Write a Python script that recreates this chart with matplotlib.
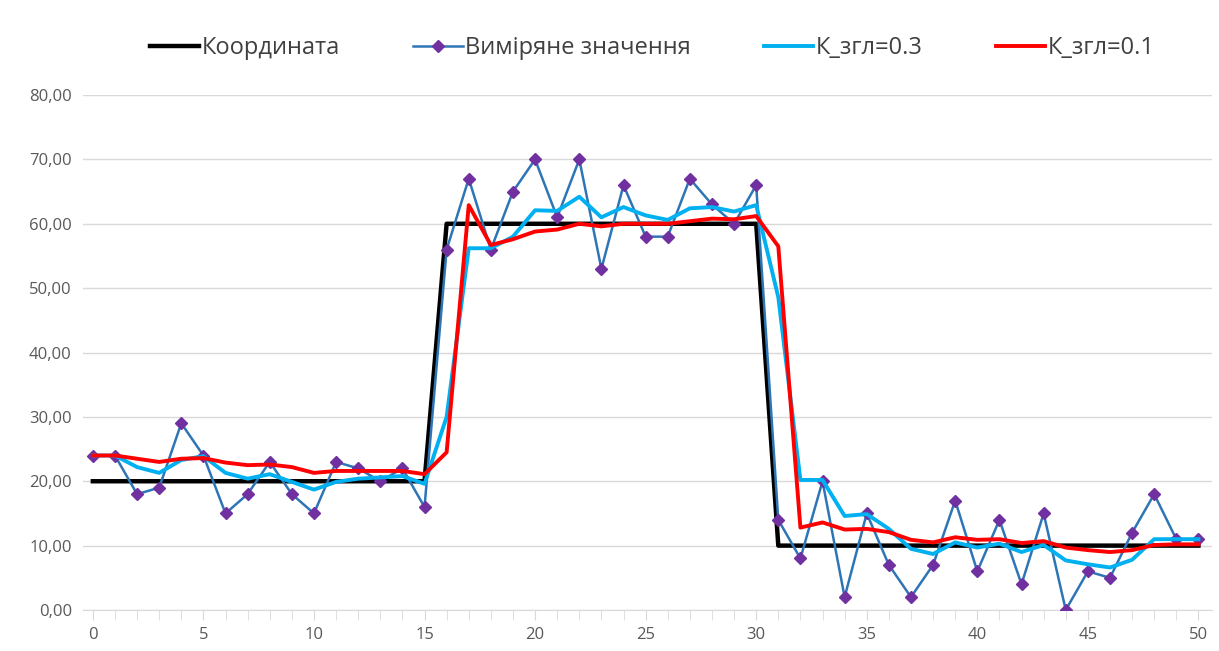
import numpy as np
import matplotlib.pyplot as plt
from matplotlib.ticker import MultipleLocator, FuncFormatter

plt.rcParams['font.family'] = ['Open Sans', 'DejaVu Sans']

# Дані
x = np.arange(0, 51)
koord = [20]*16 + [60]*15 + [10]*20
vymir = [24, 24, 18, 19, 29, 24, 15, 18, 23, 18, 15, 23, 22, 20, 22, 16,
         56, 67, 56, 65, 70, 61, 70, 53, 66, 58, 58, 67, 63, 60, 66,
         14, 8, 20, 2, 15, 7, 2, 7, 17, 6, 14, 4, 15, 0, 6, 5, 12, 18, 11, 11]
k03 = [24, 24, 22.2, 21.3, 23.3, 23.9, 21.3, 20.4, 21.1, 19.9, 18.7, 19.9, 20.4, 20.6, 20.8, 19.6,
       30.0, 56.2, 56.2, 58.0, 62.1, 62.0, 64.2, 61.0, 62.6, 61.3, 60.6, 62.4, 62.6, 61.9, 62.9,
       48.6, 20.2, 20.2, 14.6, 14.9, 12.6, 9.5, 8.7, 10.5, 9.7, 10.3, 9.0, 10.1, 7.7, 7.1, 6.6,
       7.8, 11.0, 11.0, 11.0]
k01 = [24, 24, 23.5, 23.0, 23.5, 23.6, 22.9, 22.5, 22.6, 22.2, 21.3, 21.6, 21.6, 21.6, 21.6, 21.1,
       24.5, 62.9, 56.7, 57.6, 58.8, 59.1, 60.0, 59.6, 60.0, 60.0, 60.0, 60.4, 60.8, 60.7, 61.2,
       56.5, 12.8, 13.6, 12.5, 12.6, 12.1, 10.9, 10.5, 11.3, 10.9, 11.0, 10.4, 10.7, 9.7, 9.3, 9.0,
       9.3, 10.1, 10.2, 10.2]

fig = plt.figure(figsize=(12.19, 6.51), dpi=100)
ax = fig.add_axes([0.068, 0.063, 0.926, 0.791])

ax.plot(x, koord, color='black', lw=3.2, label='Координата', zorder=2)
ax.plot(x, vymir, color='#2E75B6', lw=1.8, marker='D', markersize=6.5,
        markerfacecolor='#7030A0', markeredgecolor='#7030A0',
        label='Виміряне значення', zorder=3)
ax.plot(x, k03, color='#00B0F0', lw=2.8, label='К_згл=0.3', zorder=4)
ax.plot(x, k01, color='#FF0000', lw=2.8, label='К_згл=0.1', zorder=5)

ax.set_xlim(-0.45, 50.6)
ax.set_ylim(0, 80)
ax.yaxis.set_major_locator(MultipleLocator(10))
ax.yaxis.set_major_formatter(FuncFormatter(lambda v, p: f'{v:.2f}'.replace('.', ',')))
ax.xaxis.set_major_locator(MultipleLocator(5))
ax.xaxis.set_minor_locator(MultipleLocator(1))
ax.grid(axis='y', color='#D9D9D9', lw=1)
ax.set_axisbelow(True)

for s in ['top', 'right', 'left']:
    ax.spines[s].set_visible(False)
ax.spines['bottom'].set_color('#D9D9D9')
ax.tick_params(axis='y', length=0, labelsize=12, labelcolor='#595959', pad=8)
ax.tick_params(axis='x', which='both', direction='out', color='#D9D9D9',
               length=7, labelsize=12, labelcolor='#595959', pad=5)

fig.legend(loc='center', bbox_to_anchor=(0.535, 0.926), ncol=4, frameon=False,
           fontsize=17, handlelength=2.1, handletextpad=0.1, columnspacing=3.1,
           labelcolor='#404040')

fig.savefig('out.png', dpi=100)
